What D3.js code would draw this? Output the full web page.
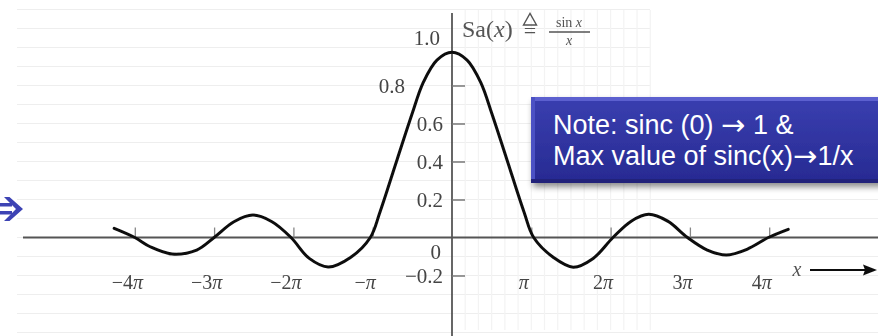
<!DOCTYPE html>
<html>
<head>
<meta charset="utf-8">
<script src="https://cdn.jsdelivr.net/npm/d3@7"></script>
<style>
  html, body { margin: 0; padding: 0; background: #ffffff; }
  svg { display: block; }
</style>
</head>
<body>
<script>
// Sampled points of Sa(x) = sin x / x, x in multiples of π
const curveX = [-4.26, -4.0, -3.8, -3.53, -3.22, -3.0, -2.75, -2.51, -2.27, -2.03, -1.8, -1.56, -1.28, -1.03, -0.908, -0.694, -0.504, -0.366, -0.19, 0,
                 0.19, 0.366, 0.504, 0.694, 0.908, 1.03, 1.28, 1.53, 1.78, 2.03, 2.26, 2.48, 2.72, 2.97, 3.22, 3.46, 3.72, 3.99, 4.24];
const curveY = [0.048, 0, -0.05, -0.087, -0.066, 0, 0.083, 0.118, 0.083, 0, -0.11, -0.155, -0.105, 0, 0.134, 0.408, 0.65, 0.813, 0.934, 0.975,
                 0.934, 0.813, 0.65, 0.408, 0.134, 0, -0.105, -0.156, -0.11, 0, 0.086, 0.122, 0.086, 0, -0.066, -0.092, -0.062, 0, 0.043];

// Axis ticks
const xTicks = [-4, -3, -2, -1, 1, 2, 3, 4];
const xTickLabels = ["−4π", "−3π", "−2π", "−π", "π", "2π", "3π", "4π"];
const yTicks = [-0.2, 0.2, 0.4, 0.6, 0.8];
const yTickLabels = ["−0.2", "0.2", "0.4", "0.6", "0.8"];
const gridLevels = d3.range(-5, 13).map(k => k / 10);

// Note text (the arrow is set in its own font)
const noteLines = [["Note: sinc (0) ", "→", " 1 &"], ["Max value of sinc(x)", "→", "1/x"]];

const W = 878, H = 336;
const svg = d3.select("body").append("svg").attr("width", W).attr("height", H);
const defs = svg.append("defs");

defs.append("filter").attr("id", "soft")
  .append("feGaussianBlur").attr("stdDeviation", 0.55);

const shadow = defs.append("filter").attr("id", "shadow")
  .attr("x", "-10%").attr("y", "-20%").attr("width", "130%").attr("height", "160%");
shadow.append("feGaussianBlur").attr("in", "SourceAlpha").attr("stdDeviation", 3).attr("result", "b");
shadow.append("feOffset").attr("dx", 2).attr("dy", 4).attr("result", "o");
shadow.append("feComponentTransfer").append("feFuncA").attr("type", "linear").attr("slope", 0.45);
const mrg = shadow.append("feMerge");
mrg.append("feMergeNode");
mrg.append("feMergeNode").attr("in", "SourceGraphic");

const grad = defs.append("linearGradient").attr("id", "boxGrad")
  .attr("x1", 0).attr("y1", 0).attr("x2", 0).attr("y2", 1);
grad.append("stop").attr("offset", "0%").attr("stop-color", "#3a3fb0");
grad.append("stop").attr("offset", "100%").attr("stop-color", "#272a92");

const x = d3.scaleLinear().domain([-4, 4]).range([452 - 4 * 79.3, 452 + 4 * 79.3]);
const y = d3.scaleLinear().domain([-0.2, 0.8]).range([275.5, 85.5]);

const fig = svg.append("g").attr("filter", "url(#soft)");

// faint background grid
const grid = fig.append("g").attr("stroke", "#eeeeee").attr("stroke-width", 1.2);
grid.selectAll("line.h").data(gridLevels).join("line")
  .attr("class", "h")
  .attr("x1", 17)
  .attr("x2", d => (y(d) < 190 ? 650 : W))
  .attr("y1", d => y(d)).attr("y2", d => y(d));
grid.selectAll("line.v").data(d3.range(1, 16).map(k => k / 6)).join("line")
  .attr("class", "v")
  .attr("stroke", "#f3f3f3")
  .attr("x1", d => x(d)).attr("x2", d => x(d))
  .attr("y1", 10).attr("y2", 330);

// axes lines
fig.append("line").attr("x1", 23).attr("x2", W).attr("y1", y(0)).attr("y2", y(0))
  .attr("stroke", "#555").attr("stroke-width", 1.8);
fig.append("line").attr("x1", x(0)).attr("x2", x(0)).attr("y1", 13).attr("y2", H)
  .attr("stroke", "#555").attr("stroke-width", 1.8);

const serif = "'Liberation Serif', 'DejaVu Serif', serif";

// x axis: ticks pointing up, labels below
const gX = fig.append("g").attr("transform", `translate(0,${y(0)})`)
  .call(d3.axisBottom(x).tickValues(xTicks).tickSizeInner(-10).tickSizeOuter(0)
    .tickPadding(37).tickFormat((d, i) => xTickLabels[i]));
gX.select(".domain").remove();
gX.selectAll(".tick line").attr("stroke", "#888").attr("stroke-width", 1.3);
gX.selectAll(".tick text")
  .attr("font-family", serif).attr("font-size", 20).attr("fill", "#444").attr("dx", -8)
  .each(function (d, i) {
    const s = xTickLabels[i];
    const t = d3.select(this).text(null);
    if (s.length > 1) t.append("tspan").text(s.slice(0, -1));
    t.append("tspan").attr("font-style", "italic").text(s.slice(-1));
  });

// y axis: ticks pointing right, labels left of the axis
const gY = fig.append("g").attr("transform", `translate(${x(0)},0)`)
  .call(d3.axisLeft(y).tickValues(yTicks).tickSizeInner(-13).tickSizeOuter(0)
    .tickPadding(9).tickFormat((d, i) => yTickLabels[i]));
gY.select(".domain").remove();
gY.selectAll(".tick line").attr("stroke", "#777").attr("stroke-width", 1.5);
gY.selectAll(".tick text")
  .attr("font-family", serif).attr("font-size", 21).attr("fill", "#444")
  .attr("x", d => (d === 0.8 ? -47 : -9));

fig.append("text").attr("x", x(0) - 12).attr("y", y(1) - 3)
  .attr("text-anchor", "end").attr("font-family", serif).attr("font-size", 21).attr("fill", "#444")
  .text("1.0");
fig.append("text").attr("x", x(0) - 11).attr("y", y(0) + 21)
  .attr("text-anchor", "end").attr("font-family", serif).attr("font-size", 21).attr("fill", "#444")
  .text("0");

// the curve
const pts = curveX.map((v, i) => [v, curveY[i]]);
fig.append("path").datum(pts)
  .attr("fill", "none").attr("stroke", "#111").attr("stroke-width", 3)
  .attr("stroke-linecap", "round")
  .attr("d", d3.line().x(d => x(d[0])).y(d => y(d[1])).curve(d3.curveCatmullRom.alpha(0.5)));

// title: Sa(x) ≜ sin x / x
const title = fig.append("g").attr("font-family", serif).attr("fill", "#555");
const t1 = title.append("text").attr("x", 462).attr("y", 37).attr("font-size", 24);
t1.append("tspan").text("Sa(");
t1.append("tspan").attr("font-style", "italic").text("x");
t1.append("tspan").text(")");
title.append("path").attr("d", "M523.5,25 L530,13.5 L536.5,25 Z")
  .attr("fill", "none").attr("stroke", "#555").attr("stroke-width", 1.4);
title.append("text").attr("x", 530).attr("y", 38).attr("text-anchor", "middle").attr("font-size", 22).text("=");
const t2 = title.append("text").attr("x", 569).attr("y", 27).attr("text-anchor", "middle").attr("font-size", 14);
t2.append("tspan").text("sin ");
t2.append("tspan").attr("font-style", "italic").text("x");
title.append("line").attr("x1", 549).attr("x2", 590).attr("y1", 32).attr("y2", 32)
  .attr("stroke", "#555").attr("stroke-width", 1.3);
title.append("text").attr("x", 569).attr("y", 45).attr("text-anchor", "middle")
  .attr("font-size", 14).attr("font-style", "italic").text("x");

// x label with arrow
fig.append("text").attr("x", 797).attr("y", 276).attr("text-anchor", "middle")
  .attr("font-family", serif).attr("font-style", "italic").attr("font-size", 20).attr("fill", "#555")
  .text("x");
fig.append("line").attr("x1", 810).attr("x2", 866).attr("y1", 270).attr("y2", 270)
  .attr("stroke", "#111").attr("stroke-width", 2.2);
fig.append("path").attr("d", "M877,270 L863,264.5 L865,270 L863,275.5 Z").attr("fill", "#111");

// blue pointer arrow on the left
const pointer = svg.append("g").attr("fill", "#3d43b4").attr("stroke", "none");
pointer.append("rect").attr("x", -2).attr("y", 203).attr("width", 14).attr("height", 3.5);
pointer.append("rect").attr("x", -2).attr("y", 211).attr("width", 14).attr("height", 3.5);
pointer.append("path").attr("d", "M4,197 L9.5,197 L23,209 L9.5,221 L4,221 L16,209 Z");

// note box
const box = svg.append("g").attr("filter", "url(#shadow)");
box.append("rect").attr("x", 531).attr("y", 97).attr("width", 352).attr("height", 86)
  .attr("fill", "url(#boxGrad)");
box.append("rect").attr("x", 531).attr("y", 97).attr("width", 352).attr("height", 4).attr("fill", "#5b60cf");
box.append("rect").attr("x", 531).attr("y", 97).attr("width", 4).attr("height", 86).attr("fill", "#4c51c4");
box.append("rect").attr("x", 531).attr("y", 179).attr("width", 352).attr("height", 4).attr("fill", "#20237a");

svg.append("g").selectAll("text").data(noteLines).join("text")
  .attr("x", 553).attr("y", (d, i) => 134 + i * 31)
  .attr("font-family", "'Liberation Sans', Arial, sans-serif").attr("font-size", 27)
  .attr("fill", "#ffffff")
  .each(function (parts) {
    const t = d3.select(this);
    t.append("tspan").text(parts[0]);
    t.append("tspan").attr("font-family", "'DejaVu Sans', sans-serif")
      .attr("font-size", 29).attr("dy", 1).text(parts[1]);
    t.append("tspan").attr("dy", -1).text(parts[2]);
  });
</script>
</body>
</html>
